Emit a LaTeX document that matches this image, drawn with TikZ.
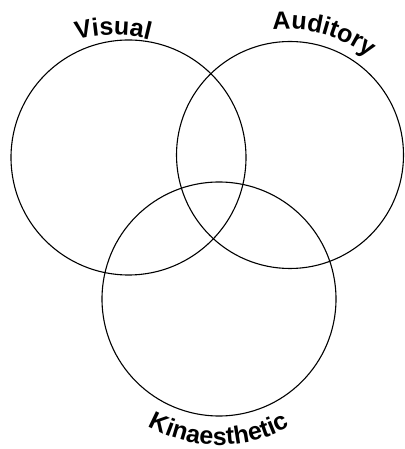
\documentclass[tikz,border=0pt]{standalone}
\usepackage{fontspec}
\usetikzlibrary{decorations.text}
\newfontfamily\labfont{Liberation Sans Bold}[LetterSpace=4]
\newcommand\labsty{\labfont\fontsize{25pt}{25pt}\selectfont}
\begin{document}
\begin{tikzpicture}[x=1pt,y=1pt,
  ring/.style={draw=black,line width=1.1pt},
  arclabel/.style={decorate,decoration={text along path,text align=center,text={|\labsty|#1}}}]
\useasboundingbox (0,0) rectangle (404,449);
% circles
\draw[ring] (128.5,291.5) circle[radius=117.5];
\draw[ring] (290,294) circle[radius=113.5];
\draw[ring] (219,150) circle[radius=117];
% labels
\path[arclabel={Visual}] (113,274) ++(125:140) arc[start angle=125,end angle=55,radius=140];
\path[arclabel={Auditory}] (285,280) ++(110:140) arc[start angle=110,end angle=38,radius=140];
\path[arclabel={Kinaesthetic}] (219,150) ++(235:146) arc[start angle=235,end angle=305,radius=146];
\end{tikzpicture}
\end{document}
